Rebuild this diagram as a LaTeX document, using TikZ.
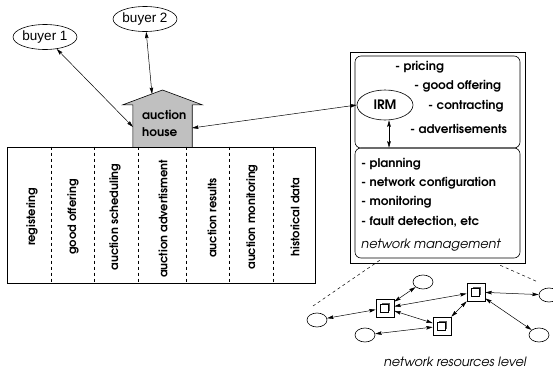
\documentclass[tikz,border=0pt]{standalone}
\usepackage{fontspec}
\setmainfont{TeX Gyre Adventor}
\newfontfamily\buyerfont{Liberation Sans}
\usetikzlibrary{arrows.meta,shapes.geometric,calc}
\definecolor{housegray}{RGB}{192,192,192}
\begin{document}
\begin{tikzpicture}[x=1pt,y=-1pt,
  bold/.style={font=\fontsize{12}{14}\selectfont\bfseries, inner sep=0pt},
  ital/.style={font=\fontsize{12.8}{15}\selectfont\itshape, inner sep=0pt},
  conn/.style={{Stealth[length=6.5pt,width=3.6pt,inset=1pt]}-{Stealth[length=6.5pt,width=3.6pt,inset=1pt]}, line width=0.5pt},
  party/.style={draw, ellipse, line width=0.6pt, inner sep=0pt, font=\buyerfont\fontsize{13.5}{16}\selectfont},
  hostnode/.style={draw, ellipse, line width=0.6pt, minimum width=20, minimum height=14, inner sep=0pt},
  router/.style={draw, line width=0.6pt, minimum size=18, inner sep=0pt,
    path picture={
      \coordinate (rc) at (path picture bounding box.center);
      \fill[black!65] ($(rc)+(-3,-5)$) rectangle ($(rc)+(5,3)$);
      \draw[fill=white, line width=0.4pt] ($(rc)+(-4.5,-3.5)$) rectangle ($(rc)+(3.5,4.5)$);
    }},
  colsep/.style={dashed, line width=0.6pt},
  vlabel/.style={font=\fontsize{11.5}{14}\selectfont\bfseries, inner sep=0pt, rotate=90},
  mgmt/.style={draw, rounded corners=6pt, line width=0.6pt},
]
\useasboundingbox (0,0) rectangle (553,370);

% buyers
\node[party, minimum width=64, minimum height=25] (b1) at (45,37) {buyer 1};
\node[party, minimum width=64, minimum height=25] (b2) at (145,19) {buyer 2};

% auction house: gray block with a roof
\node[minimum width=59, minimum height=42, inner sep=0pt] (house) at (162.5,126) {};
\path[draw, fill=housegray, line width=0.6pt]
  (house.south west) -- (house.north west) -- ++(-10,0) -- (162.5,90)
  -- ($(house.north east)+(10,0)$) -- (house.north east) -- (house.south east);
\node[bold, anchor=west, align=left] (htext) at (142,123.5) {auction\\[3pt]house};
\coordinate (roofpt) at (152,94);
\coordinate (hwest) at (133,127);
\coordinate (heast) at (192,128);

% service table
\node[draw, line width=0.6pt, minimum width=308, minimum height=136, inner sep=0pt] (table) at (161,215) {};
\foreach \x in {51,94,138,186,229,273}
  \draw[colsep] (\x,0 |- table.north) -- (\x,0 |- table.south);
\node[vlabel] (c1) at (32,217) {registering};
\node[vlabel] (c2) at (73,217) {good offering};
\node[vlabel] (c3) at (115,217) {auction scheduling};
\node[vlabel] (c4) at (163,219) {auction advertisment};
\node[vlabel] (c5) at (212,218) {auction results};
\node[vlabel] (c6) at (252,217) {auction monitoring};
\node[vlabel] (c7) at (295,217) {historical data};

% management stack
\node[draw, line width=0.6pt, minimum width=175, minimum height=211, inner sep=0pt] (outer) at (437.5,157.5) {};
\node[mgmt, minimum width=165, minimum height=92, inner sep=0pt] (irmbox) at (437.5,102) {};
\node[mgmt, minimum width=165, minimum height=110, inner sep=0pt] (nm) at (437.5,203) {};
\node[draw, ellipse, line width=0.6pt, inner sep=0pt, font=\fontsize{13}{15}\selectfont\bfseries, minimum width=56, minimum height=30] (irm) at (385,105) {IRM};
\node[bold, anchor=west] (t1) at (395,67) {- pricing};
\node[bold, anchor=west] (t2) at (414,86) {- good offering};
\node[bold, anchor=west] (t3) at (428,106) {- contracting};
\node[bold, anchor=west] (t4) at (410,129) {- advertisements};
\node[bold, anchor=west] (m1) at (361,164) {- planning};
\node[bold, anchor=west] (m2) at (361,183) {- network configuration};
\node[bold, anchor=west] (m3) at (361,202) {- monitoring};
\node[bold, anchor=west] (m4) at (361,222) {- fault detection, etc};
\node[ital, anchor=west] (m5) at (361,245) {network management};

% network resources
\node[router] (s1) at (385,308) {};
\node[router] (s2) at (476,292) {};
\node[router] (s3) at (442,326) {};
\node[hostnode] (h1) at (317,320) {};
\node[hostnode] (h2) at (423,282) {};
\node[hostnode] (h3) at (365,335) {};
\node[hostnode] (h4) at (549,295) {};
\node[hostnode] (h5) at (539,335) {};
\node[ital] (nrl) at (455,362) {network resources level};
\coordinate (dl) at (313,306);
\coordinate (dr) at (538,282);
\draw[dashed, line width=0.5pt] ($(nm.south west)+(25,2)$) -- (dl);
\draw[dashed, line width=0.5pt] ($(nm.south east)+(-20,7)$) -- (dr);

% connectors
\coordinate (irmlow) at ($(irm.south)+(4,0)$);
\draw[conn] (b1) -- (hwest);
\draw[conn] (b2) -- (roofpt);
\draw[conn] (irm.west) -- (heast);
\draw[conn] (irmlow) -- (irmlow |- nm.north);
\draw[conn] (h1) -- (s1);
\draw[conn] (h2) -- (s1);
\draw[conn] (s2) -- (s1);
\draw[conn] (s1) -- (s3);
\draw[conn] (h3) -- (s3);
\draw[conn] (s3) -- (s2);
\draw[conn] (s2) -- (h4);
\draw[conn] (s2) -- (h5);
\end{tikzpicture}
\end{document}
